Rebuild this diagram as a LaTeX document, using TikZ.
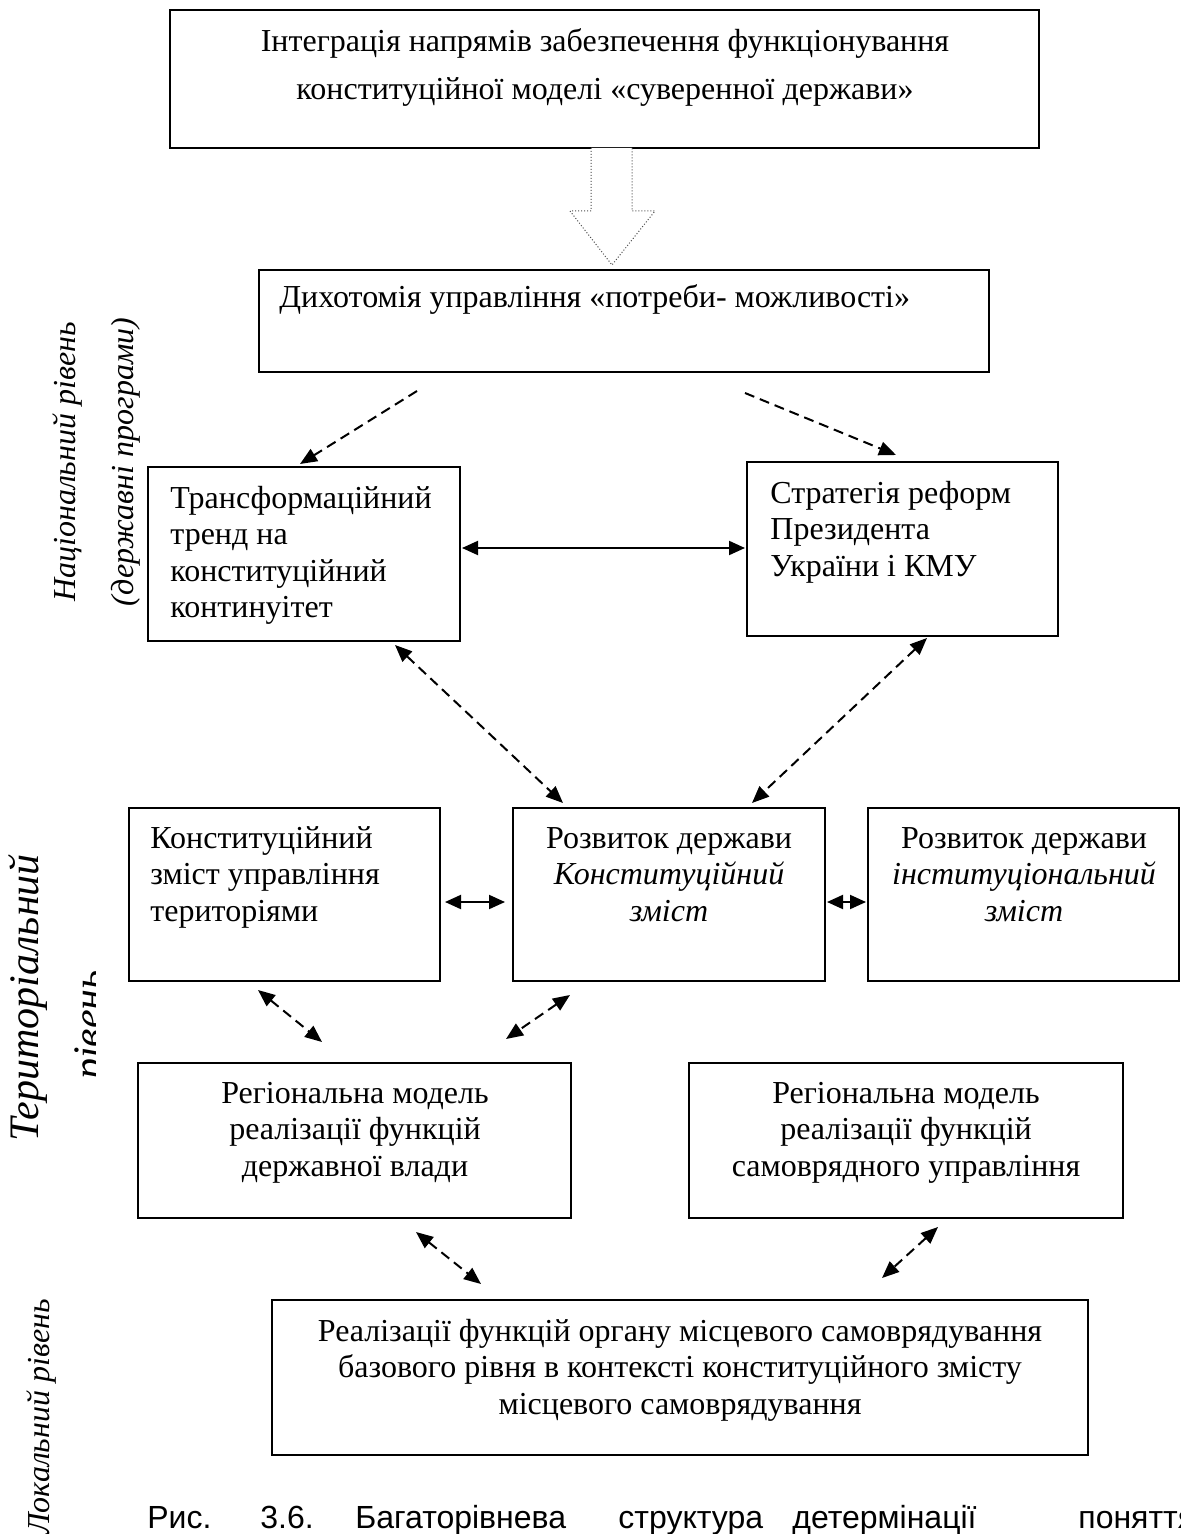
\documentclass[tikz,border=0pt]{standalone}
\usepackage{fontspec}
\setmainfont{Liberation Serif}
\newfontfamily\capfont{Liberation Sans}
\usetikzlibrary{arrows.meta,fit}

\tikzset{
  box/.style={draw, line width=1pt, inner sep=0pt},
  body/.style={inner sep=0pt, font=\fontsize{16}{18.25}\selectfont},
  % multi-line texts are placed by the baseline of their last line
  lefttxt/.style={body, anchor=base west, align=left},
  midtxt/.style={body, anchor=base, align=center},
  side/.style={inner sep=0pt, rotate=90, font=\itshape\fontsize{16}{18}\selectfont},
  dasharr/.style={line width=1pt, dash pattern=on 5pt off 3pt, -{Triangle[length=8.5pt,width=7pt]}},
  dashdbl/.style={line width=1pt, dash pattern=on 5pt off 3pt, {Triangle[length=8.5pt,width=7pt]}-{Triangle[length=8.5pt,width=7pt]}},
  soliddbl/.style={line width=1pt, {Triangle[length=8pt,width=7pt]}-{Triangle[length=8pt,width=7pt]}},
  hollow/.style={draw=black!70, line width=0.5pt, densely dotted, fill=white},
  capword/.style={inner sep=0pt, anchor=base west, font=\capfont\fontsize{16}{18}\selectfont}
}

\begin{document}
\begin{tikzpicture}[x=0.5pt,y=-0.5pt]
\useasboundingbox (0,0) rectangle (1181,1534);
\clip (0,0) rectangle (1181,1534);

% ---- boxes ----
\node[box, fit={(170,10) (1039,148)}] (top) {};
\node[box, fit={(259,270) (989,372)}] (dich) {};
\node[box, fit={(148,467) (460,641)}] (trans) {};
\node[box, fit={(747,462) (1058,636)}] (strat) {};
\node[box, fit={(129,808) (440,981)}] (konst) {};
\node[box, fit={(513,808) (825,981)}] (rozv) {};
\node[box, fit={(868,808) (1179,981)}] (inst) {};
\node[box, fit={(138,1063) (571,1218)}] (regA) {};
\node[box, fit={(689,1063) (1123,1218)}] (regB) {};
\node[box, fit={(272,1300) (1088,1455)}] (local) {};

% ---- box texts ----
\node[midtxt, font=\fontsize{16}{24}\selectfont] (top-t) at (605,100)
  {Інтеграція напрямів забезпечення функціонування\\конституційної моделі «суверенної держави»};
\node[lefttxt] (dich-t) at (279,308) {Дихотомія управління «потреби- можливості»};
\node[lefttxt] (trans-t) at (170,617.5) {Трансформаційний\\тренд на\\конституційний\\континуітет};
\node[lefttxt] (strat-t) at (770,576) {Стратегія реформ\\Президента\\України і КМУ};
\node[lefttxt] (konst-t) at (150,921) {Конституційний\\зміст управління\\територіями};
\node[midtxt] (rozv-t) at (669,921) {Розвиток держави\\\textit{Конституційний}\\\textit{зміст}};
\node[midtxt] (inst-t) at (1024,921) {Розвиток держави\\\textit{інституціональний}\\\textit{зміст}};
\node[midtxt] (regA-t) at (355,1176) {Регіональна модель\\реалізації функцій\\державної влади};
\node[midtxt] (regB-t) at (906,1176) {Регіональна модель\\реалізації функцій\\самоврядного управління};
\node[midtxt] (local-t) at (680,1414) {Реалізації функцій органу місцевого самоврядування\\базового рівня в контексті конституційного змісту\\місцевого самоврядування};

% ---- broad hollow arrow ----
\draw[hollow] (591,148) -- (591,211) -- (570,211) -- (612,265) -- (655,211) -- (632,211) -- (632,148);

% ---- connector end points ----
\coordinate (d1a) at (417,391);  \coordinate (d1b) at (300,464);
\coordinate (d2a) at (745,393);  \coordinate (d2b) at (896,455);
\coordinate (s1a) at (462,548);  \coordinate (s1b) at (745,548);
\coordinate (d3a) at (395,645);  \coordinate (d3b) at (563,803);
\coordinate (d4a) at (927,638);  \coordinate (d4b) at (752,803);
\coordinate (s2a) at (445,902);  \coordinate (s2b) at (505,902);
\coordinate (s3a) at (827,902);  \coordinate (s3b) at (866,902);
\coordinate (d5a) at (258,990);  \coordinate (d5b) at (322,1042);
\coordinate (d6a) at (570,995);  \coordinate (d6b) at (506,1039);
\coordinate (d7a) at (416,1232); \coordinate (d7b) at (481,1284);
\coordinate (d8a) at (938,1227); \coordinate (d8b) at (882,1278);

% ---- connectors ----
\draw[dasharr] (d1a) -- (d1b);
\draw[dasharr] (d2a) -- (d2b);
\draw[soliddbl] (s1a) -- (s1b);
\draw[dashdbl] (d3a) -- (d3b);
\draw[dashdbl] (d4a) -- (d4b);
\draw[soliddbl] (s2a) -- (s2b);
\draw[soliddbl] (s3a) -- (s3b);
\draw[dashdbl] (d5a) -- (d5b);
\draw[dashdbl] (d6a) -- (d6b);
\draw[dashdbl] (d7a) -- (d7b);
\draw[dashdbl] (d8a) -- (d8b);

% ---- level labels ----
\node[side] (nat1) at (68,462) {Національний рівень};
\node[side] (nat2) at (126,462) {(державні програми)};
\node[side, font=\itshape\fontsize{21}{23}\selectfont] (terr1) at (28,998) {Територіальний};
\begin{scope}
  \clip (60,900) rectangle (95,1120);
  \node[side, font=\itshape\fontsize{21}{23}\selectfont, anchor=base] (terr2) at (102,1025) {рівень};
\end{scope}
\node[side] (loc) at (42,1417) {Локальний рівень};

% ---- caption ----
\node[capword] (c1) at (147,1528) {Рис.};
\node[capword] (c2) at (260,1528) {3.6.};
\node[capword] (c3) at (355,1528) {Багаторівнева};
\node[capword] (c4) at (618,1528) {структура};
\node[capword] (c5) at (792,1528) {детермінації};
\node[capword] (c6) at (1078,1528) {поняття};
\end{tikzpicture}
\end{document}
